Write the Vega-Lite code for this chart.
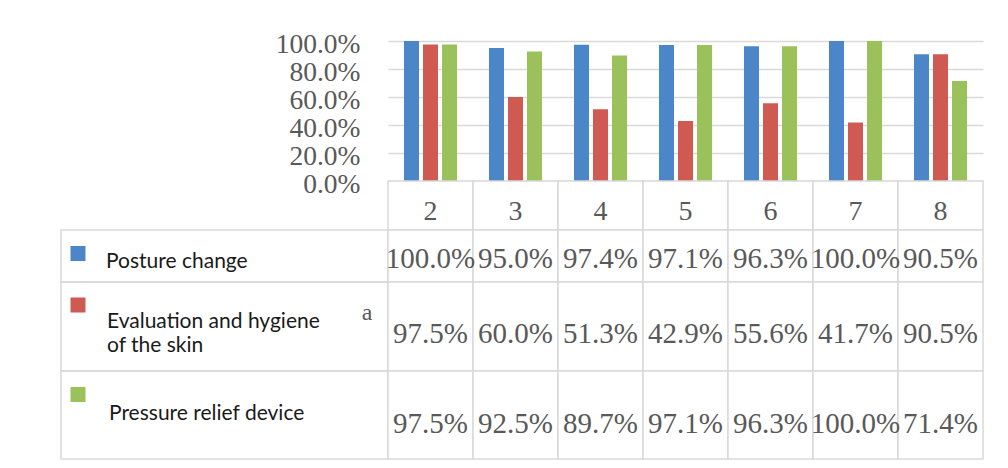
{
  "$schema": "https://vega.github.io/schema/vega-lite/v6.json",
  "padding": {"left": 60, "top": 30, "right": 0, "bottom": 0},
  "background": "white",
  "datasets": {
    "vals": [
      {"group": "2", "series": "Posture change", "value": 1.000},
      {"group": "3", "series": "Posture change", "value": 0.950},
      {"group": "4", "series": "Posture change", "value": 0.974},
      {"group": "5", "series": "Posture change", "value": 0.971},
      {"group": "6", "series": "Posture change", "value": 0.963},
      {"group": "7", "series": "Posture change", "value": 1.000},
      {"group": "8", "series": "Posture change", "value": 0.905},
      {"group": "2", "series": "Evaluation and hygiene of the skin", "value": 0.975},
      {"group": "3", "series": "Evaluation and hygiene of the skin", "value": 0.600},
      {"group": "4", "series": "Evaluation and hygiene of the skin", "value": 0.513},
      {"group": "5", "series": "Evaluation and hygiene of the skin", "value": 0.429},
      {"group": "6", "series": "Evaluation and hygiene of the skin", "value": 0.556},
      {"group": "7", "series": "Evaluation and hygiene of the skin", "value": 0.417},
      {"group": "8", "series": "Evaluation and hygiene of the skin", "value": 0.905},
      {"group": "2", "series": "Pressure relief device", "value": 0.975},
      {"group": "3", "series": "Pressure relief device", "value": 0.925},
      {"group": "4", "series": "Pressure relief device", "value": 0.897},
      {"group": "5", "series": "Pressure relief device", "value": 0.971},
      {"group": "6", "series": "Pressure relief device", "value": 0.963},
      {"group": "7", "series": "Pressure relief device", "value": 1.000},
      {"group": "8", "series": "Pressure relief device", "value": 0.714}
    ],
    "legend": [
      {"series": "Posture change", "label": ["Posture change"]},
      {"series": "Evaluation and hygiene of the skin", "label": ["Evaluation and hygiene", "of the skin"]},
      {"series": "Pressure relief device", "label": ["Pressure relief device"]}
    ]
  },
  "columns": 2,
  "spacing": 0,
  "bounds": "flush",
  "config": {"view": {"stroke": null}},
  "concat": [
    {
      "width": 327, "height": 140,
      "data": {"values": [{}]},
      "mark": {"type": "text", "text": ""}
    },
    {
      "width": 595, "height": 140,
      "data": {"name": "vals"},
      "mark": {"type": "bar"},
      "encoding": {
        "x": {"field": "group", "type": "nominal", "axis": null, "scale": {"paddingInner": 0.376, "paddingOuter": 0.188}},
        "xOffset": {"field": "series", "type": "nominal", "sort": ["Posture change", "Evaluation and hygiene of the skin", "Pressure relief device"], "scale": {"paddingInner": 0.21}},
        "y": {"field": "value", "type": "quantitative", "scale": {"domain": [0, 1]},
          "axis": {"title": null, "format": ".1%", "values": [0, 0.2, 0.4, 0.6, 0.8, 1], "domain": false, "ticks": false,
            "labelFont": "Liberation Serif", "labelFontSize": 27.5, "labelColor": "#595959", "labelPadding": 28,
            "labelOverlap": false, "labelOffset": 3, "gridColor": "#d9d9d9", "gridWidth": 1.5}},
        "color": {"field": "series", "type": "nominal", "legend": null,
          "scale": {"domain": ["Posture change", "Evaluation and hygiene of the skin", "Pressure relief device"], "range": ["#4a86c8", "#cf5a52", "#9bc25a"]}}
      }
    },
    {
      "width": 327, "height": 49,
      "data": {"values": [{}]},
      "mark": {"type": "text", "text": ""}
    },
    {
      "width": 595, "height": 49,
      "data": {"name": "vals"},
      "transform": [{"filter": "datum.series === 'Posture change'"}],
      "layer": [
        {"mark": {"type": "rect", "fill": "white", "stroke": "#d9d9d9", "strokeWidth": 1.5},
         "encoding": {"x": {"field": "group", "type": "nominal", "axis": null, "scale": {"paddingInner": 0, "paddingOuter": 0}}}},
        {"mark": {"type": "text", "font": "Liberation Serif", "fontSize": 28, "color": "#595959", "baseline": "alphabetic", "y": 39},
         "encoding": {"x": {"field": "group", "type": "nominal", "axis": null}, "text": {"field": "group"}}}
      ]
    },
    {
      "width": 327, "height": 52,
      "view": {"stroke": "#d9d9d9", "strokeWidth": 1.5},
      "data": {"name": "legend"},
      "transform": [{"filter": "datum.series === 'Posture change'"}],
      "layer": [
        {"mark": {"type": "square", "size": 225, "opacity": 1, "x": 17, "y": 23.5},
         "encoding": {"color": {"field": "series", "type": "nominal", "legend": null,
           "scale": {"domain": ["Posture change", "Evaluation and hygiene of the skin", "Pressure relief device"], "range": ["#4a86c8", "#cf5a52", "#9bc25a"]}}}},
        {"mark": {"type": "text", "font": "Lato", "fontSize": 21, "align": "left", "baseline": "alphabetic", "x": 45, "y": 38, "color": "#1a1a1a"},
         "encoding": {"text": {"field": "label"}}}
      ]
    },
    {
      "width": 595, "height": 52,
      "data": {"name": "vals"},
      "transform": [{"filter": "datum.series === 'Posture change'"}],
      "layer": [
        {"mark": {"type": "rect", "fill": "white", "stroke": "#d9d9d9", "strokeWidth": 1.5},
         "encoding": {"x": {"field": "group", "type": "nominal", "axis": null, "scale": {"paddingInner": 0, "paddingOuter": 0}}}},
        {"mark": {"type": "text", "font": "Liberation Serif", "fontSize": 29, "color": "#595959", "baseline": "alphabetic", "y": 38},
         "encoding": {"x": {"field": "group", "type": "nominal", "axis": null}, "text": {"field": "value", "type": "quantitative", "format": ".1%"}}}
      ]
    },
    {
      "width": 327, "height": 89,
      "view": {"stroke": "#d9d9d9", "strokeWidth": 1.5},
      "data": {"name": "legend"},
      "transform": [{"filter": "datum.series === 'Evaluation and hygiene of the skin'"}],
      "layer": [
        {"mark": {"type": "square", "size": 225, "opacity": 1, "x": 17, "y": 23},
         "encoding": {"color": {"field": "series", "type": "nominal", "legend": null,
           "scale": {"domain": ["Posture change", "Evaluation and hygiene of the skin", "Pressure relief device"], "range": ["#4a86c8", "#cf5a52", "#9bc25a"]}}}},
        {"mark": {"type": "text", "font": "Lato", "fontSize": 21, "align": "left", "baseline": "alphabetic", "x": 46, "y": 46, "lineHeight": 24, "color": "#1a1a1a"},
         "encoding": {"text": {"field": "label"}}},
        {"mark": {"type": "text", "text": "a", "font": "Liberation Serif", "fontSize": 24, "color": "#595959", "x": 306, "y": 31}}
      ]
    },
    {
      "width": 595, "height": 89,
      "data": {"name": "vals"},
      "transform": [{"filter": "datum.series === 'Evaluation and hygiene of the skin'"}],
      "layer": [
        {"mark": {"type": "rect", "fill": "white", "stroke": "#d9d9d9", "strokeWidth": 1.5},
         "encoding": {"x": {"field": "group", "type": "nominal", "axis": null, "scale": {"paddingInner": 0, "paddingOuter": 0}}}},
        {"mark": {"type": "text", "font": "Liberation Serif", "fontSize": 29, "color": "#595959", "baseline": "alphabetic", "y": 61},
         "encoding": {"x": {"field": "group", "type": "nominal", "axis": null}, "text": {"field": "value", "type": "quantitative", "format": ".1%"}}}
      ]
    },
    {
      "width": 327, "height": 88,
      "view": {"stroke": "#d9d9d9", "strokeWidth": 1.5},
      "data": {"name": "legend"},
      "transform": [{"filter": "datum.series === 'Pressure relief device'"}],
      "layer": [
        {"mark": {"type": "square", "size": 225, "opacity": 1, "x": 17, "y": 23.5},
         "encoding": {"color": {"field": "series", "type": "nominal", "legend": null,
           "scale": {"domain": ["Posture change", "Evaluation and hygiene of the skin", "Pressure relief device"], "range": ["#4a86c8", "#cf5a52", "#9bc25a"]}}}},
        {"mark": {"type": "text", "font": "Lato", "fontSize": 21, "align": "left", "baseline": "alphabetic", "x": 48, "y": 49, "color": "#1a1a1a"},
         "encoding": {"text": {"field": "label"}}}
      ]
    },
    {
      "width": 595, "height": 88,
      "data": {"name": "vals"},
      "transform": [{"filter": "datum.series === 'Pressure relief device'"}],
      "layer": [
        {"mark": {"type": "rect", "fill": "white", "stroke": "#d9d9d9", "strokeWidth": 1.5},
         "encoding": {"x": {"field": "group", "type": "nominal", "axis": null, "scale": {"paddingInner": 0, "paddingOuter": 0}}}},
        {"mark": {"type": "text", "font": "Liberation Serif", "fontSize": 29, "color": "#595959", "baseline": "alphabetic", "y": 62},
         "encoding": {"x": {"field": "group", "type": "nominal", "axis": null}, "text": {"field": "value", "type": "quantitative", "format": ".1%"}}}
      ]
    }
  ]
}
